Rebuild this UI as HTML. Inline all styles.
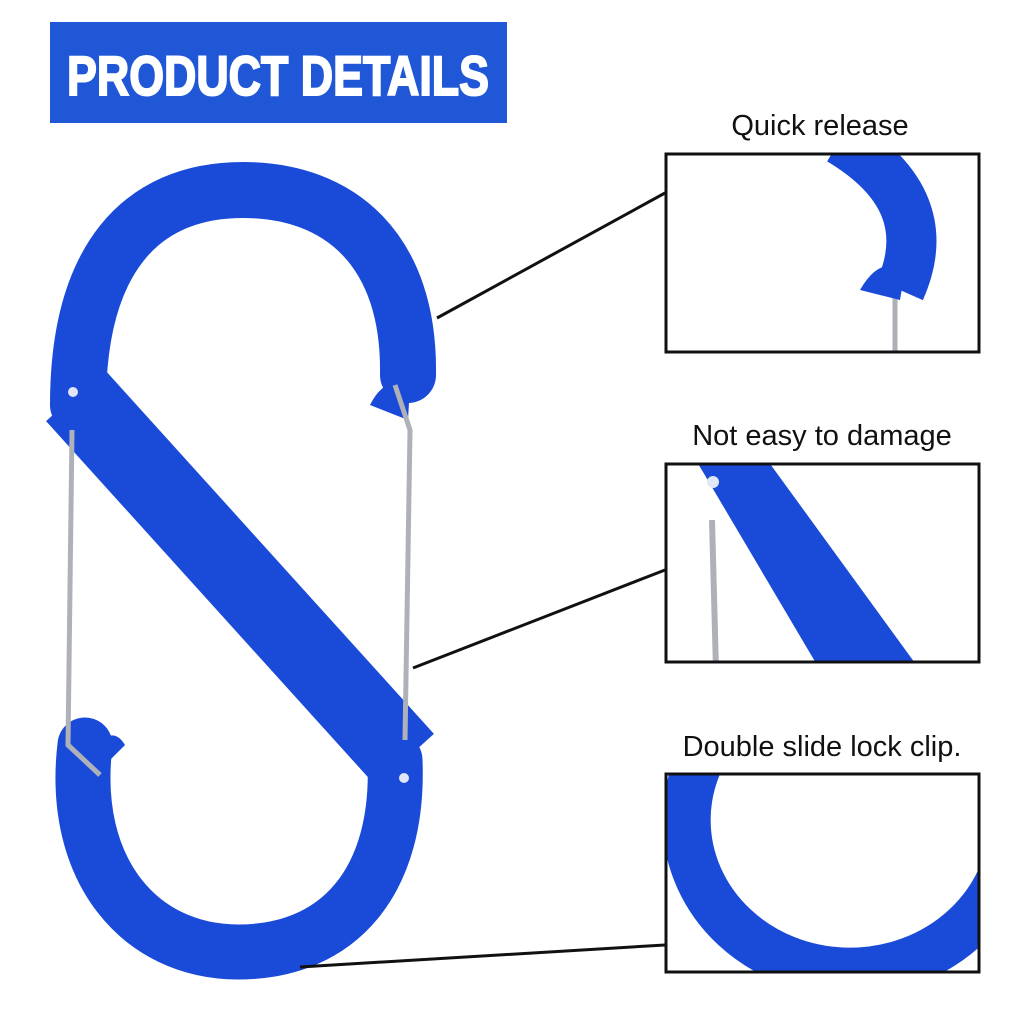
<!DOCTYPE html>
<html><head><meta charset="utf-8"><style>
html,body{margin:0;padding:0;background:#fff;}
body{width:1024px;height:1024px;position:relative;overflow:hidden;font-family:"Liberation Sans",sans-serif;}
.lbl{position:absolute;font-size:29px;color:#111;text-align:center;width:400px;}
</style></head><body>
<svg width="1024" height="1024" style="position:absolute;left:0;top:0">
<defs>
<clipPath id="c1"><rect x="667" y="155" width="311" height="196"/></clipPath>
<clipPath id="c2"><rect x="667" y="465" width="311" height="196"/></clipPath>
<clipPath id="c3"><rect x="667" y="775" width="311" height="196"/></clipPath>
</defs>
<rect x="50" y="22" width="457" height="101" fill="#1f57d6"/>
<text x="278" y="95" text-anchor="middle" font-family="Liberation Sans" font-weight="bold" font-size="56" fill="#fff" stroke="#fff" stroke-width="2" textLength="422" lengthAdjust="spacingAndGlyphs">PRODUCT DETAILS</text>
<g fill="none" stroke="#1a4bd8" stroke-linecap="round">
<path d="M408 375 C410 250 340 190 243 190 C140 190 78 260 78 405" stroke-width="56"/>
<path d="M75 395 L405 760" stroke-width="78" stroke-linecap="butt"/>
<path d="M85 745 C70 870 140 952 238 952 C340 952 400 880 395 760" stroke-width="55"/>
</g>
<path d="M370 405 Q385 375 410 385 L408 420 Z" fill="#1a4bd8"/>
<path d="M85 760 Q110 720 125 745 L100 770 Z" fill="#1a4bd8"/>
<g stroke="#aeb2b8" stroke-width="5" fill="none">
<path d="M395 385 L410 430 L405 740"/>
<path d="M72 430 L68 745 L100 775"/>
</g>
<circle cx="73" cy="392" r="5" fill="#dfe6f5"/>
<circle cx="404" cy="778" r="5" fill="#dfe6f5"/>
<g stroke="#111" stroke-width="3">
<line x1="437" y1="318" x2="665" y2="193"/>
<line x1="413" y1="668" x2="665" y2="570"/>
<line x1="300" y1="967" x2="665" y2="945"/>
</g>
<g clip-path="url(#c1)">
<path d="M840 140 Q940 200 900 290" stroke="#1a4bd8" stroke-width="50" fill="none"/>
<line x1="895" y1="270" x2="895" y2="360" stroke="#aeb2b8" stroke-width="5"/>
<path d="M860 290 Q880 255 905 270 L900 300 Z" fill="#1a4bd8"/>
</g>
<g clip-path="url(#c2)">
<path d="M690 450 L760 450 L920 670 L820 670 Z" fill="#1a4bd8"/>
<line x1="712" y1="520" x2="716" y2="670" stroke="#aeb2b8" stroke-width="6"/>
<circle cx="713" cy="482" r="6" fill="#dfe6f5"/>
</g>
<g clip-path="url(#c3)">
<path d="M700 760 A140 130 0 0 0 1000 880" stroke="#1a4bd8" stroke-width="48" fill="none"/>
</g>
<g fill="none" stroke="#111" stroke-width="3">
<rect x="666" y="154" width="313" height="198"/>
<rect x="666" y="464" width="313" height="198"/>
<rect x="666" y="774" width="313" height="198"/>
</g>
</svg>
<div class="lbl" style="left:620px;top:110px">Quick release</div>
<div class="lbl" style="left:622px;top:420px">Not easy to damage</div>
<div class="lbl" style="left:622px;top:731px">Double slide lock clip.</div>
</body></html>
